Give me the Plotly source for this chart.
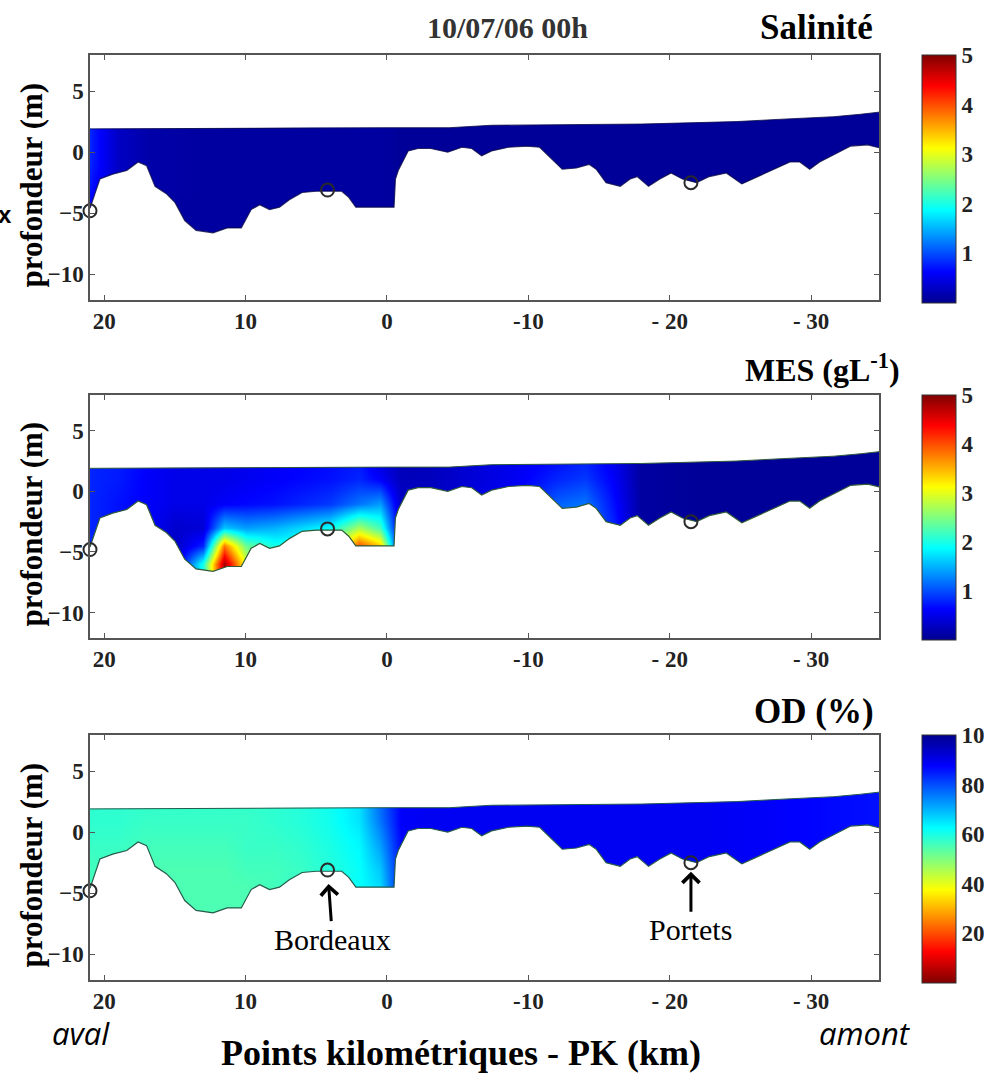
import plotly.graph_objects as go

W, H = 984, 1073

# Channel geometry along the Garonne (PK in km, elevation in m)
BED_PK = [21.0, 20.6, 20.3, 19.4, 18.4, 17.6, 17.0, 16.4, 15.6, 15.0, 14.3, 13.5, 12.3,
          11.3, 10.3, 9.6, 9.0, 8.3, 7.6, 6.9, 6.0, 5.0, 4.1, 3.2, 2.7, 2.2, 0.8, -0.5,
          -0.6, -0.8, -1.5, -2.2, -3.1, -4.3, -5.3, -6.0, -6.7, -7.4, -8.6, -9.9, -10.8,
          -11.5, -12.4, -13.4, -14.3, -14.8, -15.5, -16.5, -17.2, -17.7, -18.5, -19.3,
          -20.1, -20.9, -21.9, -22.8, -24.0, -25.1, -26.2, -27.3, -28.5, -29.2, -29.9,
          -30.6, -31.6, -32.8, -34.0, -35.0]
BED_Z = [-4.6, -3.2, -2.2, -1.8, -1.5, -0.8, -1.1, -2.8, -3.4, -4.1, -5.6, -6.4, -6.6,
         -6.2, -6.2, -4.7, -4.3, -4.7, -4.5, -3.9, -3.3, -3.2, -3.2, -3.2, -3.7, -4.5, -4.5,
         -4.5, -2.2, -1.5, 0.1, 0.3, 0.3, 0.0, 0.4, 0.3, -0.3, 0.1, 0.4, 0.5, 0.4, -0.4,
         -1.4, -1.3, -1.0, -1.4, -2.5, -2.8, -2.2, -2.0, -2.8, -2.2, -1.7, -2.2, -2.5, -2.0,
         -1.7, -2.6, -2.0, -1.4, -0.8, -0.8, -1.4, -0.8, -0.2, 0.5, 0.6, 0.3]
SURF_PK = [21.0, 13.5, 5.0, 0.0, -4.4, -7.4, -18.0, -24.7, -28.0, -31.6, -33.5, -35.0]
SURF_Z = [1.9, 1.95, 2.0, 2.0, 2.0, 2.2, 2.3, 2.5, 2.7, 2.9, 3.1, 3.3]

# Sampling grid of the gridded fields (PK stations x elevation levels)
FIELD_PK = [21, 19, 17, 15, 13, 11.5, 10, 8, 6, 4, 2, 0.5, -1, -3, -6, -9, -12, -14, -16,
            -18, -22, -27, -31, -35]
FIELD_Z = [3.5, 1, -1, -3, -4.5, -6, -7]

SALINITE = [
    [0.8, 0.3, 0.15, 0.12, 0.1, 0.1, 0.1, 0.1, 0.1, 0.1, 0.1, 0.1, 0.05, 0.05, 0.05, 0.05, 0.05, 0.05, 0.05, 0.05, 0.05, 0.05, 0.05, 0.05],
    [0.8, 0.3, 0.15, 0.12, 0.1, 0.1, 0.1, 0.1, 0.1, 0.1, 0.1, 0.1, 0.05, 0.05, 0.05, 0.05, 0.05, 0.05, 0.05, 0.05, 0.05, 0.05, 0.05, 0.05],
    [0.8, 0.3, 0.15, 0.12, 0.1, 0.1, 0.1, 0.1, 0.1, 0.1, 0.1, 0.1, 0.05, 0.05, 0.05, 0.05, 0.05, 0.05, 0.05, 0.05, 0.05, 0.05, 0.05, 0.05],
    [0.7, 0.25, 0.15, 0.12, 0.1, 0.1, 0.1, 0.1, 0.1, 0.1, 0.1, 0.1, 0.05, 0.05, 0.05, 0.05, 0.05, 0.05, 0.05, 0.05, 0.05, 0.05, 0.05, 0.05],
    [0.6, 0.2, 0.12, 0.1, 0.1, 0.1, 0.1, 0.1, 0.1, 0.1, 0.1, 0.1, 0.05, 0.05, 0.05, 0.05, 0.05, 0.05, 0.05, 0.05, 0.05, 0.05, 0.05, 0.05],
    [0.5, 0.2, 0.1, 0.1, 0.1, 0.1, 0.1, 0.1, 0.1, 0.1, 0.1, 0.1, 0.05, 0.05, 0.05, 0.05, 0.05, 0.05, 0.05, 0.05, 0.05, 0.05, 0.05, 0.05],
    [0.5, 0.2, 0.1, 0.1, 0.1, 0.1, 0.1, 0.1, 0.1, 0.1, 0.1, 0.1, 0.05, 0.05, 0.05, 0.05, 0.05, 0.05, 0.05, 0.05, 0.05, 0.05, 0.05, 0.05],
]

MES = [
    [0.8, 0.75, 0.65, 0.55, 0.5, 0.5, 0.5, 0.55, 0.6, 0.65, 0.7, 0.3, 0.2, 0.25, 0.4, 0.5, 0.6, 0.7, 0.5, 0.1, 0.05, 0.05, 0.05, 0.05],
    [0.8, 0.75, 0.6, 0.5, 0.5, 0.5, 0.55, 0.6, 0.65, 0.7, 0.8, 0.6, 0.25, 0.25, 0.4, 0.55, 0.8, 0.9, 0.6, 0.1, 0.05, 0.05, 0.05, 0.05],
    [0.8, 0.7, 0.6, 0.5, 0.5, 0.6, 0.65, 0.7, 0.8, 0.9, 1.2, 1.4, 0.3, 0.3, 0.45, 0.6, 1.1, 1.2, 0.7, 0.1, 0.05, 0.05, 0.05, 0.05],
    [0.8, 0.7, 0.6, 0.35, 0.4, 1.6, 1.4, 1.5, 1.7, 1.9, 2.7, 2.2, 0.3, 0.3, 0.45, 0.6, 1.3, 1.3, 0.8, 0.1, 0.05, 0.05, 0.05, 0.05],
    [0.8, 0.7, 0.5, 0.3, 0.8, 3.8, 2.4, 2.0, 2.0, 2.4, 4.0, 3.4, 0.3, 0.3, 0.45, 0.6, 1.3, 1.3, 0.8, 0.1, 0.05, 0.05, 0.05, 0.05],
    [0.8, 0.7, 0.5, 0.3, 2.0, 4.8, 3.0, 2.0, 2.0, 2.4, 4.0, 3.4, 0.3, 0.3, 0.45, 0.6, 1.3, 1.3, 0.8, 0.1, 0.05, 0.05, 0.05, 0.05],
    [0.8, 0.7, 0.5, 0.3, 2.0, 4.8, 3.0, 2.0, 2.0, 2.4, 4.0, 3.4, 0.3, 0.3, 0.45, 0.6, 1.3, 1.3, 0.8, 0.1, 0.05, 0.05, 0.05, 0.05],
]

OD = [
    [58, 58, 58, 58, 58, 58, 58, 58, 59, 61, 66, 78, 88, 89, 89, 89, 89, 89, 89, 89, 89, 88, 87, 86],
    [58, 58, 57, 57, 57, 57, 57, 58, 59, 61, 65, 76, 88, 89, 89, 89, 89, 89, 89, 89, 89, 88, 87, 86],
    [57, 57, 56, 56, 56, 56, 57, 57, 58, 60, 63, 72, 87, 89, 89, 89, 89, 89, 89, 89, 89, 88, 87, 86],
    [56, 56, 55, 55, 55, 55, 56, 56, 57, 59, 62, 68, 86, 89, 89, 89, 89, 89, 89, 89, 89, 88, 87, 86],
    [56, 55, 55, 55, 55, 55, 55, 56, 57, 59, 62, 66, 86, 89, 89, 89, 89, 89, 89, 89, 89, 88, 87, 86],
    [55, 55, 55, 55, 55, 55, 55, 56, 57, 59, 62, 66, 86, 89, 89, 89, 89, 89, 89, 89, 89, 88, 87, 86],
    [55, 55, 55, 55, 55, 55, 55, 56, 57, 59, 62, 66, 86, 89, 89, 89, 89, 89, 89, 89, 89, 88, 87, 86],
]

# Monitoring stations (open circles)
STATION_NAME = ["", "Bordeaux", "Portets"]
STATION_PK = [21.0, 4.2, -21.5]
STATION_Z = [-4.8, -3.1, -2.5]

X_TICKS = [20, 10, 0, -10, -20, -30]
X_TICKTEXT = ["20", "10", "0", "-10", "- 20", "- 30"]
Y_TICKS = [5, 0, -5, -10]

SERIF = "Liberation Serif"

JET = [[0.0, "rgb(0,0,143)"], [0.125, "rgb(0,0,255)"], [0.375, "rgb(0,255,255)"],
       [0.625, "rgb(255,255,0)"], [0.875, "rgb(255,0,0)"], [1.0, "rgb(128,0,0)"]]


def px(x):
    return x / W


def py(y):
    return 1 - y / H


# plot-area pixel bounds of each panel (top, bottom)
PANELS = [(55, 300), (395, 638), (735, 980)]
CBARS = [(55, 303), (395, 640), (735, 983)]
X_LEFT, X_RIGHT = 90, 879

fields = [SALINITE, MES, OD]
bed_colors = ["rgba(10,10,70,0.8)", "#2f5a3a", "#245a4c"]

fig = go.Figure()

for i, field in enumerate(fields):
    sfx = "" if i == 0 else str(i + 1)
    xa, ya = "x" + sfx, "y" + sfx
    fig.add_trace(go.Heatmap(
        x=FIELD_PK, y=FIELD_Z, z=field, zsmooth="best",
        coloraxis="coloraxis" + sfx, xaxis=xa, yaxis=ya, hoverinfo="skip"))
    # white out the air above the free surface
    fig.add_trace(go.Scatter(
        x=[23] + SURF_PK + [-37, -37, 23],
        y=[SURF_Z[0]] + SURF_Z + [SURF_Z[-1], 10, 10],
        fill="toself", fillcolor="white", mode="lines", line=dict(width=0),
        xaxis=xa, yaxis=ya, showlegend=False, hoverinfo="skip"))
    # white out the river bed
    fig.add_trace(go.Scatter(
        x=[23] + BED_PK + [-37, -37, 23],
        y=[BED_Z[0]] + BED_Z + [BED_Z[-1], -14, -14],
        fill="toself", fillcolor="white", mode="lines", line=dict(width=0),
        xaxis=xa, yaxis=ya, showlegend=False, hoverinfo="skip"))
    fig.add_trace(go.Scatter(
        x=BED_PK, y=BED_Z, mode="lines", line=dict(color=bed_colors[i], width=1.2),
        xaxis=xa, yaxis=ya, showlegend=False, hoverinfo="skip"))
    fig.add_trace(go.Scatter(
        x=SURF_PK, y=SURF_Z, mode="lines", line=dict(color=bed_colors[i], width=1),
        xaxis=xa, yaxis=ya, showlegend=False, hoverinfo="skip"))
    fig.add_trace(go.Scatter(
        x=STATION_PK, y=STATION_Z, mode="markers", cliponaxis=False,
        marker=dict(symbol="circle-open", size=13, line=dict(width=2, color="#2a2a2a"),
                    color="#2a2a2a"),
        xaxis=xa, yaxis=ya, showlegend=False, hoverinfo="skip"))

axis_common = dict(showline=True, mirror="ticks", linecolor="#555", linewidth=1.5,
                   ticks="inside", ticklen=5, tickcolor="#555", showgrid=False,
                   zeroline=False,
                   tickfont=dict(family=SERIF, size=23, color="#222", weight="bold"))

layout = dict(width=W, height=H, plot_bgcolor="white", paper_bgcolor="white",
              margin=dict(l=0, r=0, t=0, b=0, autoexpand=False), showlegend=False)

cb_ticks = [[1, 2, 3, 4, 5], [1, 2, 3, 4, 5], [20, 40, 60, 80, 100]]
cb_range = [(0, 5), (0, 5), (0, 100)]
for i, (top, bot) in enumerate(PANELS):
    sfx = "" if i == 0 else str(i + 1)
    layout["xaxis" + sfx] = dict(axis_common, domain=[px(X_LEFT), px(X_RIGHT)],
                                 anchor="y" + sfx, range=[21.0, -34.8],
                                 tickvals=X_TICKS, ticktext=X_TICKTEXT)
    layout["yaxis" + sfx] = dict(axis_common, domain=[py(bot), py(top)],
                                 anchor="x" + sfx, range=[-12.1, 7.95],
                                 tickvals=Y_TICKS)
    ctop, cbot = CBARS[i]
    layout["coloraxis" + sfx] = dict(
        colorscale=JET, cmin=cb_range[i][0], cmax=cb_range[i][1],
        reversescale=(i == 2),
        colorbar=dict(x=px(922), xanchor="left", xpad=0, ypad=0, thickness=34,
                      len=(cbot - ctop) / H, lenmode="fraction",
                      y=py((ctop + cbot) / 2), yanchor="middle",
                      outlinecolor="#333", outlinewidth=1,
                      tickvals=cb_ticks[i], ticks="", ticklabelposition="outside",
                      tickfont=dict(family=SERIF, size=23, color="#222", weight="bold")))

fig.update_layout(**layout)

ann = []


def text(s, x, y, size, color="black", family=SERIF, angle=0):
    ann.append(dict(text=s, x=px(x), y=py(y), xref="paper", yref="paper",
                    showarrow=False, xanchor="center", yanchor="middle",
                    textangle=angle, font=dict(family=family, size=size, color=color)))


text("<b>10/07/06 00h</b>", 507, 27, 30, color="#333")
text("<b>Salinité</b>", 816, 27, 35)
text("<b>MES (gL<sup>-1</sup>)</b>", 822, 368, 32)
text("<b>OD (%)</b>", 814, 711, 35)
for top, bot in PANELS:
    text("<b>profondeur (m)</b>", 31, (top + bot) / 2 + 8, 31, angle=-90)
text("<b>Points kilométriques - PK (km)</b>", 461, 1053, 36)
text("<i>aval</i>", 81, 1033, 31, family="Open Sans")
text("<i>amont</i>", 865, 1033, 31, family="Open Sans")
text("<b>x</b>", 5, 214, 24, family="Liberation Sans")

# station labels with arrows in the oxygen panel
for name, pk, z, dx, dy, gap in zip(STATION_NAME[1:], STATION_PK[1:], STATION_Z[1:],
                                    [5, 0], [69, 67], [14, 9]):
    ann.append(dict(x=pk, y=z, xref="x3", yref="y3", text=name, showarrow=True,
                    arrowhead=4, arrowsize=1.1, arrowwidth=3, arrowcolor="black",
                    standoff=gap, ax=dx, ay=dy,
                    font=dict(family=SERIF, size=30, color="black")))

fig.update_layout(annotations=ann)
fig.write_html("out.html")
